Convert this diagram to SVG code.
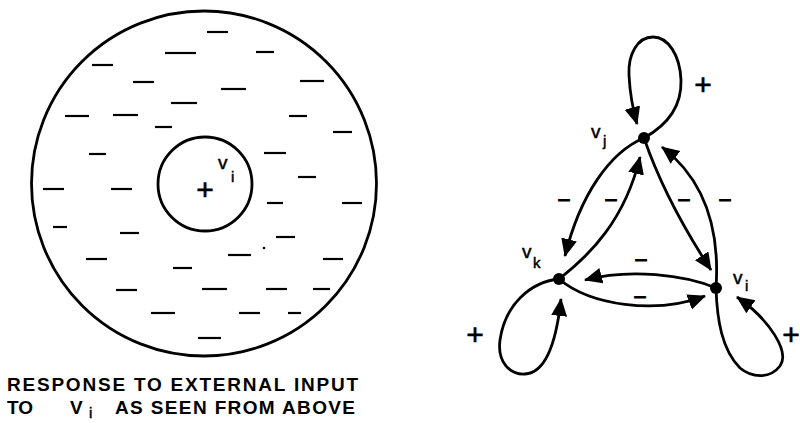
<svg xmlns="http://www.w3.org/2000/svg" width="800" height="423" viewBox="0 0 800 423">
<style>
.ring{fill:none;stroke:#000;stroke-width:2.8}
.chg line{stroke:#000;stroke-width:2.2}
.edge{fill:none;stroke:#000;stroke-width:2.8;marker-end:url(#ah)}
.node{fill:#000}
.t{font-family:"Liberation Sans",Arial,sans-serif;fill:#000}
.lab{font-size:19px;stroke:#000;stroke-width:0.5}
.sub{font-size:15px;stroke:#000;stroke-width:0.5}
.pl{font-size:30px;text-anchor:middle;stroke:#000;stroke-width:0.6}
.mn{font-size:24px;text-anchor:middle;font-weight:bold}
.cap{font-size:19px;font-weight:bold}
</style>
<defs>
<marker id="ah" markerUnits="userSpaceOnUse" markerWidth="20" markerHeight="18" refX="17" refY="8" orient="auto" viewBox="0 0 20 18">
<path d="M0,0 L18,8 L0,16 z" fill="#000"/>
</marker>
</defs>
<g id="field">
<circle class="ring" cx="204" cy="183.5" r="172.5"/>
<circle class="ring" cx="205" cy="184" r="47"/>
<text class="t pl" x="205" y="200">+</text>
<text class="t lab" x="218" y="169">v</text>
<text class="t sub" x="231" y="182">i</text>
<g class="chg">
<line x1="207" y1="32" x2="228" y2="32"/>
<line x1="165" y1="53" x2="196" y2="53"/>
<line x1="256" y1="52" x2="274" y2="52"/>
<line x1="92" y1="65" x2="113" y2="65"/>
<line x1="133" y1="82" x2="154" y2="82"/>
<line x1="221" y1="89" x2="246" y2="89"/>
<line x1="300" y1="81" x2="324" y2="81"/>
<line x1="171" y1="103" x2="197" y2="103"/>
<line x1="65" y1="116" x2="89" y2="116"/>
<line x1="113" y1="115" x2="138" y2="115"/>
<line x1="289" y1="116" x2="307" y2="116"/>
<line x1="155" y1="127" x2="172" y2="127"/>
<line x1="333" y1="132" x2="352" y2="132"/>
<line x1="89" y1="154" x2="106" y2="154"/>
<line x1="264" y1="153" x2="286" y2="153"/>
<line x1="298" y1="177" x2="316" y2="177"/>
<line x1="43" y1="189" x2="64" y2="189"/>
<line x1="111" y1="189" x2="132" y2="189"/>
<line x1="267" y1="203" x2="283" y2="203"/>
<line x1="342" y1="203" x2="362" y2="203"/>
<line x1="53" y1="227" x2="67" y2="227"/>
<line x1="120" y1="233" x2="139" y2="233"/>
<line x1="276" y1="237" x2="295" y2="237"/>
<line x1="86" y1="259" x2="107" y2="259"/>
<line x1="228" y1="255" x2="251" y2="255"/>
<line x1="323" y1="259" x2="343" y2="259"/>
<line x1="173" y1="268" x2="192" y2="268"/>
<line x1="116" y1="290" x2="137" y2="290"/>
<line x1="202" y1="289" x2="227" y2="289"/>
<line x1="266" y1="289" x2="287" y2="289"/>
<line x1="313" y1="289" x2="330" y2="289"/>
<line x1="151" y1="313" x2="175" y2="313"/>
<line x1="239" y1="313" x2="260" y2="313"/>
<line x1="288" y1="313" x2="301" y2="313"/>
<line x1="198" y1="338" x2="221" y2="338"/>
</g>
<circle cx="264" cy="248" r="1.3" fill="#000"/>
</g>
<g id="caption">
<text class="t cap" x="7" y="391" textLength="351" lengthAdjust="spacing">RESPONSE TO EXTERNAL INPUT</text>
<text class="t cap" x="7" y="414">TO</text>
<text class="t cap" x="70" y="414">V</text>
<text class="t sub" x="89" y="418">i</text>
<text class="t cap" x="115" y="414" textLength="240" lengthAdjust="spacing">AS SEEN FROM ABOVE</text>
</g>
<g id="connectors">
<path class="edge" d="M644,138 C662,128 682,110 681,80 C680,55 668,37 653,37 C637,37 628,55 629,75 C630,95 633,110 637,124"/>
<path class="edge" d="M644,138 C610,152 580,195 565,256"/>
<path class="edge" d="M559,279 C590,255 625,220 640,157"/>
<path class="edge" d="M644,138 C655,170 675,215 711,270"/>
<path class="edge" d="M716,288 C720,230 705,180 662,147"/>
<path class="edge" d="M716,288 C685,275 630,268 585,280"/>
<path class="edge" d="M559,279 C590,305 655,315 705,296"/>
<path class="edge" d="M559,279 C530,282 505,305 500,340 C497,362 510,375 525,374 C545,373 556,345 561,299"/>
<path class="edge" d="M716,288 C717,320 722,350 740,368 C752,378 770,379 780,366 C790,352 770,320 737,297"/>
</g>
<g id="edge-labels">
<text class="t pl" x="703" y="95">+</text>
<text class="t pl" x="475" y="345">+</text>
<text class="t pl" x="791" y="345">+</text>
<text class="t mn" x="564" y="208">−</text>
<text class="t mn" x="611" y="208">−</text>
<text class="t mn" x="684" y="208">−</text>
<text class="t mn" x="725" y="208">−</text>
<text class="t mn" x="641" y="268">−</text>
<text class="t mn" x="640" y="305">−</text>
</g>
<g id="node-vj">
<circle class="node" cx="644" cy="138" r="6"/>
<text class="t lab" x="591" y="138">v</text>
<text class="t sub" x="603" y="146">j</text>
</g>
<g id="node-vk">
<circle class="node" cx="559" cy="279" r="6"/>
<text class="t lab" x="522" y="258">v</text>
<text class="t sub" x="533" y="268">k</text>
</g>
<g id="node-vi">
<circle class="node" cx="716" cy="288" r="6"/>
<text class="t lab" x="733" y="284">v</text>
<text class="t sub" x="745" y="291">i</text>
</g>
</svg>
